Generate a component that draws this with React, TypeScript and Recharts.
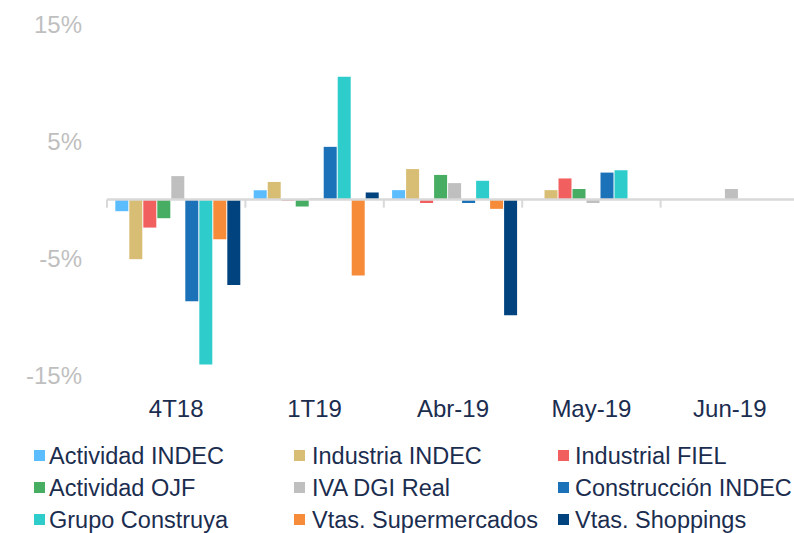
import {
  Bar,
  BarChart,
  Legend,
  ReferenceLine,
  XAxis,
  YAxis,
} from "recharts";

const categories = ["4T18", "1T19", "Abr-19", "May-19", "Jun-19"];

const actividadIndec = [-1.0, 0.8, 0.8, null, null];
const industriaIndec = [-5.1, 1.5, 2.6, 0.8, null];
const industrialFiel = [-2.4, -0.1, -0.3, 1.8, null];
const actividadOjf = [-1.6, -0.6, 2.1, 0.9, null];
const ivaDgiReal = [2.0, 0.1, 1.4, -0.3, 0.9];
const construccionIndec = [-8.7, 4.5, -0.3, 2.3, null];
const grupoConstruya = [-14.1, 10.5, 1.6, 2.5, null];
const vtasSupermercados = [-3.4, -6.5, -0.8, null, null];
const vtasShoppings = [-7.3, 0.6, -9.9, null, null];

const yTicks = [-15, -5, 5, 15];

const series = [
  { key: "a", name: "Actividad INDEC", values: actividadIndec, color: "#5bbdfd" },
  { key: "b", name: "Industria INDEC", values: industriaIndec, color: "#d8be74" },
  { key: "c", name: "Industrial FIEL", values: industrialFiel, color: "#f25f5f" },
  { key: "d", name: "Actividad OJF", values: actividadOjf, color: "#47ad62" },
  { key: "e", name: "IVA DGI Real", values: ivaDgiReal, color: "#bfbfbf" },
  { key: "f", name: "Construcción INDEC", values: construccionIndec, color: "#1b72b8" },
  { key: "g", name: "Grupo Construya", values: grupoConstruya, color: "#2ecdcb" },
  { key: "h", name: "Vtas. Supermercados", values: vtasSupermercados, color: "#f68b3a" },
  { key: "i", name: "Vtas. Shoppings", values: vtasShoppings, color: "#00437e" },
];

const data = categories.map((cat, i) => {
  const row: Record<string, string | number | null> = { cat };
  series.forEach((s) => {
    row[s.key] = s.values[i];
  });
  return row;
});

const FONT = "'Liberation Sans', Arial, sans-serif";
const TEXT = "#1b2d4f";
const AXIS = "#d9d9d9";

const colX = [[34, 49], [294, 312], [558, 575]];

function LegendGrid({ payload }: any) {
  // keep the series order (recharts sorts the payload by name)
  const items = [...(payload || [])].sort(
    (p: any, q: any) =>
      series.findIndex((s) => s.name === p.value) -
      series.findIndex((s) => s.name === q.value)
  );
  return (
    <div style={{ position: "relative", width: 794, height: 93 }}>
      {items.map((p: any, i: number) => {
        const col = i % 3;
        const row = Math.floor(i / 3);
        const cy = 15.5 + row * 32;
        return (
          <div key={p.value}>
            <div
              style={{
                position: "absolute",
                left: colX[col][0],
                top: cy - 5.5,
                width: 11,
                height: 11,
                background: p.color,
              }}
            />
            <div
              style={{
                position: "absolute",
                left: colX[col][1],
                top: cy - 15,
                height: 30,
                lineHeight: "30px",
                fontSize: 23.5,
                fontFamily: FONT,
                color: TEXT,
                whiteSpace: "nowrap",
              }}
            >
              {p.value}
            </div>
          </div>
        );
      })}
    </div>
  );
}

export default function App() {
  return (
    <div
      style={{
        position: "absolute",
        left: 0,
        top: 0,
        width: 794,
        height: 533,
        overflow: "hidden",
        background: "#fff",
      }}
    >
      <BarChart
        width={800}
        height={533}
        data={data}
        margin={{ top: 24, right: 1, left: 0, bottom: 0 }}
        barCategoryGap="6%"
        barGap={1}
      >
        <XAxis
          dataKey="cat"
          axisLine={false}
          tickLine={false}
          tickSize={0}
          tickMargin={25}
          height={65}
          interval={0}
          tick={{ fill: TEXT, fontSize: 24, fontFamily: FONT }}
        />
        <YAxis
          domain={[-15, 15]}
          ticks={yTicks}
          width={107}
          axisLine={false}
          tickLine={false}
          tickSize={0}
          tickMargin={25}
          tickFormatter={(v: number) => `${v}%`}
          tick={{ fill: "#bfbfbf", fontSize: 24, fontFamily: FONT }}
        />
        <ReferenceLine y={0} stroke={AXIS} strokeWidth={2.5} />
        {categories.map((c) => (
          <ReferenceLine
            key={`s-${c}`}
            segment={[
              { x: c, y: 0 },
              { x: c, y: -0.7 },
            ]}
            position="start"
            stroke={AXIS}
            strokeWidth={2}
          />
        ))}
        <ReferenceLine
          segment={[
            { x: categories[categories.length - 1], y: 0 },
            { x: categories[categories.length - 1], y: -0.7 },
          ]}
          position="end"
          stroke={AXIS}
          strokeWidth={2}
        />
        {series.map((s) => (
          <Bar
            key={s.key}
            dataKey={s.key}
            name={s.name}
            fill={s.color}
            isAnimationActive={false}
          />
        ))}
        <Legend
          verticalAlign="bottom"
          height={93}
          wrapperStyle={{ left: 0, bottom: 0, width: 794 }}
          content={(props: any) => <LegendGrid payload={props.payload} />}
        />
      </BarChart>
    </div>
  );
}
